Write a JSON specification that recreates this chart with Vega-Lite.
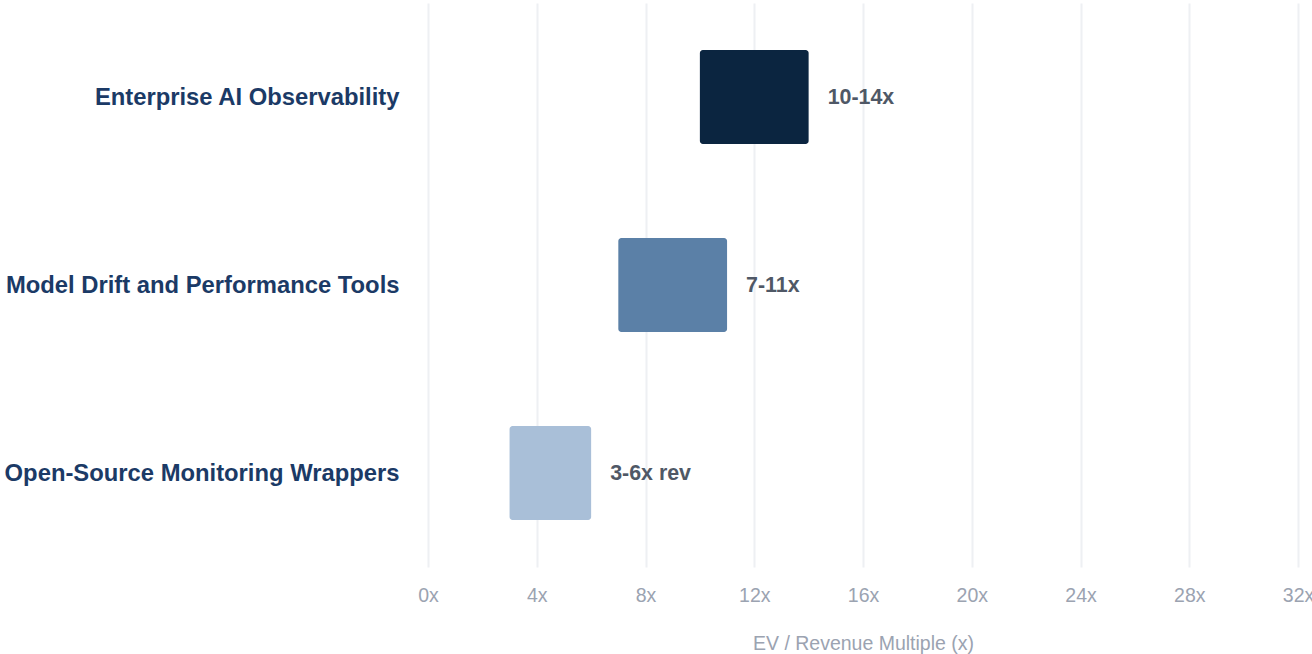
{
  "$schema": "https://vega.github.io/schema/vega-lite/v6.json",
  "autosize": {"type": "none"},
  "width": 870,
  "height": 564,
  "padding": {"left": 428, "top": 3, "right": 14, "bottom": 87},
  "background": "#ffffff",
  "config": {
    "font": "Liberation Sans",
    "view": {"stroke": null}
  },
  "data": {
    "values": [
      {"segment": "Enterprise AI Observability", "low": 10, "high": 14, "label": "10-14x"},
      {"segment": "Model Drift and Performance Tools", "low": 7, "high": 11, "label": "7-11x"},
      {"segment": "Open-Source Monitoring Wrappers", "low": 3, "high": 6, "label": "3-6x rev"}
    ]
  },
  "encoding": {
    "y": {
      "field": "segment",
      "type": "nominal",
      "sort": null,
      "scale": {"paddingInner": 0.5, "paddingOuter": 0.25},
      "axis": {
        "title": null,
        "ticks": false,
        "domain": false,
        "labelPadding": 29,
        "labelOffset": 1,
        "labelFont": "Liberation Sans",
        "labelFontSize": 23.8,
        "labelFontWeight": "bold",
        "labelColor": "#1b3a66",
        "labelLimit": 500
      }
    }
  },
  "layer": [
    {
      "mark": {"type": "bar", "cornerRadius": 3},
      "encoding": {
        "x": {
          "field": "low",
          "type": "quantitative",
          "scale": {"domain": [0, 32], "nice": false},
          "axis": {
            "values": [0, 4, 8, 12, 16, 20, 24, 28, 32],
            "labelExpr": "datum.value + 'x'",
            "labelFlush": false,
            "labelOverlap": false,
            "title": "EV / Revenue Multiple (x)",
            "titleFont": "Liberation Sans",
            "titleFontSize": 19.5,
            "titleFontWeight": "normal",
            "titleColor": "#9ba3b1",
            "titlePadding": 30,
            "labelFont": "Liberation Sans",
            "labelFontSize": 19.5,
            "labelColor": "#9ba3b1",
            "labelPadding": 19,
            "ticks": false,
            "domain": false,
            "grid": true,
            "gridColor": "#eef0f3",
            "gridWidth": 2
          }
        },
        "x2": {"field": "high"},
        "color": {
          "field": "segment",
          "type": "nominal",
          "sort": null,
          "scale": {"range": ["#0b2540", "#5b80a7", "#a9bfd8"]},
          "legend": null
        }
      }
    },
    {
      "mark": {"type": "text", "align": "left", "dx": 19, "dy": 1, "fontSize": 21.4, "fontWeight": "bold", "color": "#4f5866", "font": "Liberation Sans"},
      "encoding": {
        "x": {"field": "high", "type": "quantitative"},
        "text": {"field": "label"}
      }
    }
  ]
}
